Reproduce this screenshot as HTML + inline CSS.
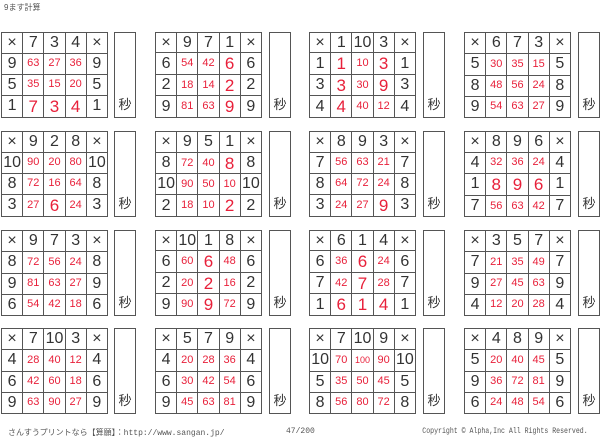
<!DOCTYPE html>
<html><head><meta charset="utf-8"><style>
body{margin:0;width:600px;height:439px;background:#fff;position:relative;overflow:hidden;font-family:"Liberation Sans","Noto Sans CJK JP",sans-serif}
table{position:absolute;border-collapse:collapse;width:107px;height:86px;table-layout:fixed}
td{border:1.5px solid #555;text-align:center;vertical-align:middle;padding:0;font-size:16px;color:#333;line-height:1;font-weight:normal}
td.r{color:#e8203a;font-size:11px}
td.R{color:#e8203a;font-size:17px}
.s{position:absolute;width:20px;height:84px;border:1.5px solid #555;font-size:13px;color:#333;text-align:center;box-sizing:content-box}
.s span{position:absolute;bottom:4px;left:0;right:0}
.t{position:absolute;font-size:8px;color:#555;white-space:nowrap}
.m{font-family:"Liberation Mono","Noto Sans CJK JP",monospace}
</style></head><body>
<div class="t" style="left:4px;top:2px">9ます計算</div>

<table style="left:1px;top:32px"><tr><td>×</td><td>7</td><td>3</td><td>4</td><td>×</td></tr><tr><td>9</td><td class="r">63</td><td class="r">27</td><td class="r">36</td><td>9</td></tr><tr><td>5</td><td class="r">35</td><td class="r">15</td><td class="r">20</td><td>5</td></tr><tr><td>1</td><td class="R">7</td><td class="R">3</td><td class="R">4</td><td>1</td></tr></table>
<div class="s" style="left:114px;top:32px"><span>秒</span></div>
<table style="left:155px;top:32px"><tr><td>×</td><td>9</td><td>7</td><td>1</td><td>×</td></tr><tr><td>6</td><td class="r">54</td><td class="r">42</td><td class="R">6</td><td>6</td></tr><tr><td>2</td><td class="r">18</td><td class="r">14</td><td class="R">2</td><td>2</td></tr><tr><td>9</td><td class="r">81</td><td class="r">63</td><td class="R">9</td><td>9</td></tr></table>
<div class="s" style="left:269px;top:32px"><span>秒</span></div>
<table style="left:309px;top:32px"><tr><td>×</td><td>1</td><td>10</td><td>3</td><td>×</td></tr><tr><td>1</td><td class="R">1</td><td class="r">10</td><td class="R">3</td><td>1</td></tr><tr><td>3</td><td class="R">3</td><td class="r">30</td><td class="R">9</td><td>3</td></tr><tr><td>4</td><td class="R">4</td><td class="r">40</td><td class="r">12</td><td>4</td></tr></table>
<div class="s" style="left:423px;top:32px"><span>秒</span></div>
<table style="left:464px;top:32px"><tr><td>×</td><td>6</td><td>7</td><td>3</td><td>×</td></tr><tr><td>5</td><td class="r">30</td><td class="r">35</td><td class="r">15</td><td>5</td></tr><tr><td>8</td><td class="r">48</td><td class="r">56</td><td class="r">24</td><td>8</td></tr><tr><td>9</td><td class="r">54</td><td class="r">63</td><td class="r">27</td><td>9</td></tr></table>
<div class="s" style="left:578px;top:32px"><span>秒</span></div>

<table style="left:1px;top:131px"><tr><td>×</td><td>9</td><td>2</td><td>8</td><td>×</td></tr><tr><td>10</td><td class="r">90</td><td class="r">20</td><td class="r">80</td><td>10</td></tr><tr><td>8</td><td class="r">72</td><td class="r">16</td><td class="r">64</td><td>8</td></tr><tr><td>3</td><td class="r">27</td><td class="R">6</td><td class="r">24</td><td>3</td></tr></table>
<div class="s" style="left:114px;top:131px"><span>秒</span></div>
<table style="left:155px;top:131px"><tr><td>×</td><td>9</td><td>5</td><td>1</td><td>×</td></tr><tr><td>8</td><td class="r">72</td><td class="r">40</td><td class="R">8</td><td>8</td></tr><tr><td>10</td><td class="r">90</td><td class="r">50</td><td class="r">10</td><td>10</td></tr><tr><td>2</td><td class="r">18</td><td class="r">10</td><td class="R">2</td><td>2</td></tr></table>
<div class="s" style="left:269px;top:131px"><span>秒</span></div>
<table style="left:309px;top:131px"><tr><td>×</td><td>8</td><td>9</td><td>3</td><td>×</td></tr><tr><td>7</td><td class="r">56</td><td class="r">63</td><td class="r">21</td><td>7</td></tr><tr><td>8</td><td class="r">64</td><td class="r">72</td><td class="r">24</td><td>8</td></tr><tr><td>3</td><td class="r">24</td><td class="r">27</td><td class="R">9</td><td>3</td></tr></table>
<div class="s" style="left:423px;top:131px"><span>秒</span></div>
<table style="left:464px;top:131px"><tr><td>×</td><td>8</td><td>9</td><td>6</td><td>×</td></tr><tr><td>4</td><td class="r">32</td><td class="r">36</td><td class="r">24</td><td>4</td></tr><tr><td>1</td><td class="R">8</td><td class="R">9</td><td class="R">6</td><td>1</td></tr><tr><td>7</td><td class="r">56</td><td class="r">63</td><td class="r">42</td><td>7</td></tr></table>
<div class="s" style="left:578px;top:131px"><span>秒</span></div>

<table style="left:1px;top:230px"><tr><td>×</td><td>9</td><td>7</td><td>3</td><td>×</td></tr><tr><td>8</td><td class="r">72</td><td class="r">56</td><td class="r">24</td><td>8</td></tr><tr><td>9</td><td class="r">81</td><td class="r">63</td><td class="r">27</td><td>9</td></tr><tr><td>6</td><td class="r">54</td><td class="r">42</td><td class="r">18</td><td>6</td></tr></table>
<div class="s" style="left:114px;top:230px"><span>秒</span></div>
<table style="left:155px;top:230px"><tr><td>×</td><td>10</td><td>1</td><td>8</td><td>×</td></tr><tr><td>6</td><td class="r">60</td><td class="R">6</td><td class="r">48</td><td>6</td></tr><tr><td>2</td><td class="r">20</td><td class="R">2</td><td class="r">16</td><td>2</td></tr><tr><td>9</td><td class="r">90</td><td class="R">9</td><td class="r">72</td><td>9</td></tr></table>
<div class="s" style="left:269px;top:230px"><span>秒</span></div>
<table style="left:309px;top:230px"><tr><td>×</td><td>6</td><td>1</td><td>4</td><td>×</td></tr><tr><td>6</td><td class="r">36</td><td class="R">6</td><td class="r">24</td><td>6</td></tr><tr><td>7</td><td class="r">42</td><td class="R">7</td><td class="r">28</td><td>7</td></tr><tr><td>1</td><td class="R">6</td><td class="R">1</td><td class="R">4</td><td>1</td></tr></table>
<div class="s" style="left:423px;top:230px"><span>秒</span></div>
<table style="left:464px;top:230px"><tr><td>×</td><td>3</td><td>5</td><td>7</td><td>×</td></tr><tr><td>7</td><td class="r">21</td><td class="r">35</td><td class="r">49</td><td>7</td></tr><tr><td>9</td><td class="r">27</td><td class="r">45</td><td class="r">63</td><td>9</td></tr><tr><td>4</td><td class="r">12</td><td class="r">20</td><td class="r">28</td><td>4</td></tr></table>
<div class="s" style="left:578px;top:230px"><span>秒</span></div>

<table style="left:1px;top:328px"><tr><td>×</td><td>7</td><td>10</td><td>3</td><td>×</td></tr><tr><td>4</td><td class="r">28</td><td class="r">40</td><td class="r">12</td><td>4</td></tr><tr><td>6</td><td class="r">42</td><td class="r">60</td><td class="r">18</td><td>6</td></tr><tr><td>9</td><td class="r">63</td><td class="r">90</td><td class="r">27</td><td>9</td></tr></table>
<div class="s" style="left:114px;top:328px"><span>秒</span></div>
<table style="left:155px;top:328px"><tr><td>×</td><td>5</td><td>7</td><td>9</td><td>×</td></tr><tr><td>4</td><td class="r">20</td><td class="r">28</td><td class="r">36</td><td>4</td></tr><tr><td>6</td><td class="r">30</td><td class="r">42</td><td class="r">54</td><td>6</td></tr><tr><td>9</td><td class="r">45</td><td class="r">63</td><td class="r">81</td><td>9</td></tr></table>
<div class="s" style="left:269px;top:328px"><span>秒</span></div>
<table style="left:309px;top:328px"><tr><td>×</td><td>7</td><td>10</td><td>9</td><td>×</td></tr><tr><td>10</td><td class="r">70</td><td class="r" style="font-size:9px">100</td><td class="r">90</td><td>10</td></tr><tr><td>5</td><td class="r">35</td><td class="r">50</td><td class="r">45</td><td>5</td></tr><tr><td>8</td><td class="r">56</td><td class="r">80</td><td class="r">72</td><td>8</td></tr></table>
<div class="s" style="left:423px;top:328px"><span>秒</span></div>
<table style="left:464px;top:328px"><tr><td>×</td><td>4</td><td>8</td><td>9</td><td>×</td></tr><tr><td>5</td><td class="r">20</td><td class="r">40</td><td class="r">45</td><td>5</td></tr><tr><td>9</td><td class="r">36</td><td class="r">72</td><td class="r">81</td><td>9</td></tr><tr><td>6</td><td class="r">24</td><td class="r">48</td><td class="r">54</td><td>6</td></tr></table>
<div class="s" style="left:578px;top:328px"><span>秒</span></div>

<div class="t m" style="left:8px;top:427px">さんすうプリントなら【算願】：http://www.sangan.jp/</div>
<div class="t m" style="left:286px;top:427px">47/200</div>
<div class="t m" style="right:12px;top:427px;transform:scaleX(0.82);transform-origin:right center">Copyright © Alpha,Inc All Rights Reserved.</div>
</body></html>
